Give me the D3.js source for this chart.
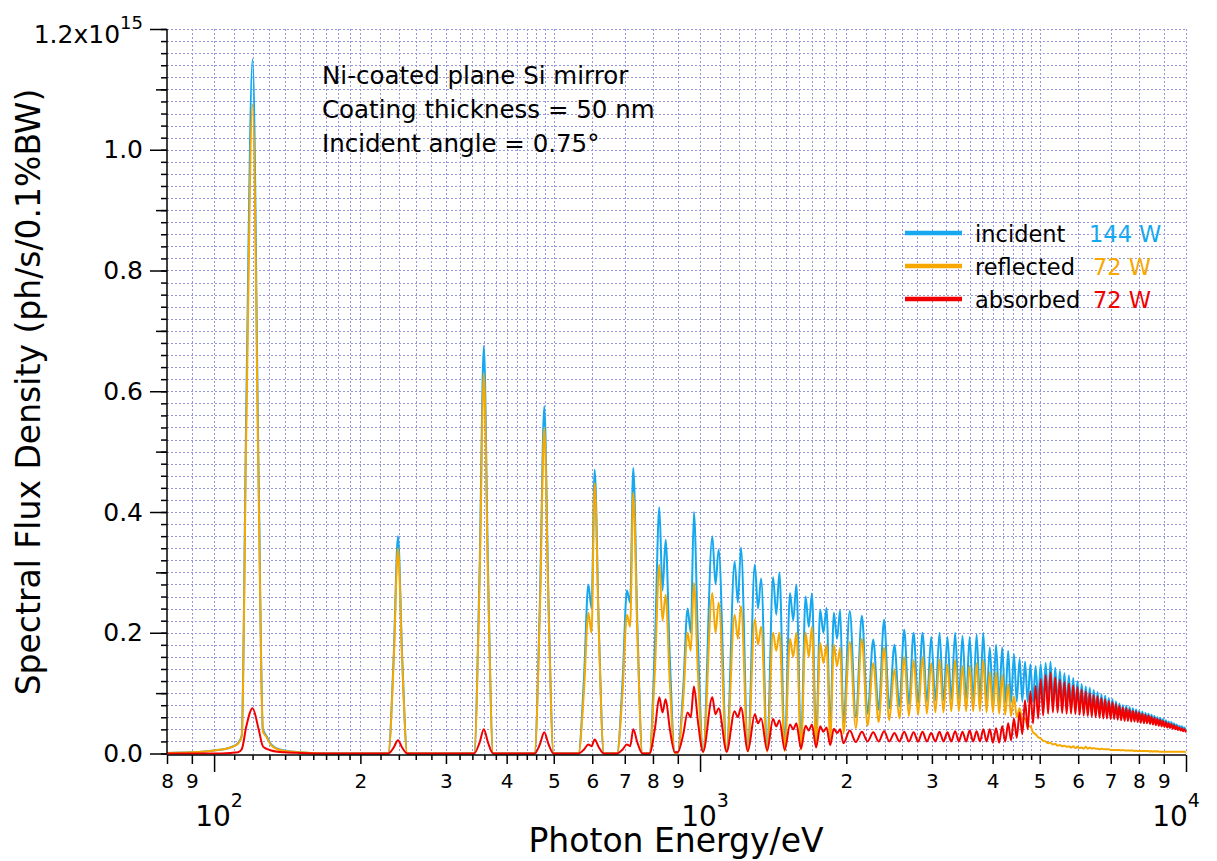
<html lang="en">
<head>
<meta charset="utf-8">
<title>Spectral flux density</title>
<script src="https://d3js.org/d3.v7.min.js"></script>
<style>
  body { margin: 0; background: white; }
  svg text { font-family: "DejaVu Sans", sans-serif; }
</style>
</head>
<body>
<div id="chart"></div>
<script>

// first harmonic region, read point by point (eV, 1e15 ph/s/0.1%BW)
var lowE   = [80, 90, 100, 108, 112, 114, 116.5, 120, 123.5, 126, 128, 131, 135, 140, 150, 170];
var lowInc = [0.001, 0.002, 0.005, 0.01, 0.017, 0.03, 0.58, 1.15, 0.46, 0.04, 0.03, 0.015, 0.008, 0.005, 0.002, 0];
var lowRef = [0.001, 0.002, 0.005, 0.01, 0.016, 0.028, 0.54, 1.075, 0.43, 0.037, 0.028, 0.014, 0.007, 0.004, 0.002, 0];
var lowAbs = [0, 0, 0, 0.001, 0.002, 0.007, 0.045, 0.075, 0.04, 0.012, 0.008, 0.005, 0.003, 0.002, 0.001, 0];

// harmonics 2..83 (eV)
var harmonicE = [239, 359, 478, 598, 718, 837, 957, 1076, 1196, 1316,
  1435, 1555, 1674, 1794, 1914, 2033, 2153, 2272, 2392, 2512,
  2631, 2751, 2870, 2990, 3110, 3229, 3349, 3468, 3588, 3708,
  3827, 3947, 4066, 4186, 4306, 4425, 4545, 4664, 4784, 4904,
  5023, 5143, 5262, 5382, 5502, 5621, 5741, 5860, 5980, 6100,
  6219, 6339, 6458, 6578, 6698, 6817, 6937, 7056, 7176, 7296,
  7415, 7535, 7654, 7774, 7894, 8013, 8133, 8252, 8372, 8492,
  8611, 8731, 8850, 8970, 9090, 9209, 9329, 9448, 9568, 9688,
  9807, 9927];

// incident: peak of each harmonic, and the valley after it
var incPeak = [0.36, 0.675, 0.575, 0.28, 0.27, 0.408, 0.24, 0.36, 0.318, 0.313,
  0.292, 0.266, 0.26, 0.238, 0.233, 0.236, 0.228, 0.189, 0.222, 0.18,
  0.205, 0.2, 0.2, 0.193, 0.2, 0.193, 0.2, 0.195, 0.193, 0.197,
  0.2, 0.176, 0.18, 0.176, 0.17, 0.165, 0.157, 0.152, 0.148, 0.145,
  0.148, 0.15, 0.152, 0.142, 0.137, 0.133, 0.129, 0.125, 0.12, 0.115,
  0.111, 0.109, 0.105, 0.102, 0.098, 0.096, 0.092, 0.09, 0.086, 0.083,
  0.08, 0.079, 0.077, 0.075, 0.073, 0.071, 0.069, 0.067, 0.066, 0.064,
  0.062, 0.06, 0.059, 0.057, 0.055, 0.053, 0.052, 0.05, 0.048, 0.046,
  0.045, 0.043];
var incValley = [0, 0, 0, 0, 0, 0.002, 0.003, 0.004, 0.006, 0.008,
  0.01, 0.015, 0.022, 0.04, 0.052, 0.061, 0.066, 0.072, 0.075, 0.078,
  0.082, 0.084, 0.086, 0.088, 0.088, 0.09, 0.09, 0.09, 0.09, 0.09,
  0.088, 0.086, 0.084, 0.084, 0.084, 0.086, 0.087, 0.085, 0.085, 0.085,
  0.084, 0.083, 0.083, 0.081, 0.079, 0.077, 0.076, 0.074, 0.073, 0.071,
  0.07, 0.069, 0.068, 0.066, 0.065, 0.065, 0.063, 0.063, 0.062, 0.06,
  0.059, 0.059, 0.058, 0.057, 0.056, 0.055, 0.054, 0.054, 0.052, 0.051,
  0.05, 0.049, 0.048, 0.047, 0.046, 0.045, 0.044, 0.043, 0.042, 0.041,
  0.04, 0.038];
// harmonics 5..16 split in two spikes: second spike and the dip between
var incTwin = [0.47, 0.473, 0.354, 0.40, 0.338, 0.341, 0.29, 0.30, 0.28, 0.265, 0.241, 0.238];
var incDip  = [0.24, 0.25, 0.27, 0.2, 0.28, 0.25, 0.24, 0.23, 0.22, 0.21, 0.2, 0.19];

// reflected
var refPeak = [0.34, 0.63, 0.54, 0.233, 0.23, 0.313, 0.2, 0.266, 0.23, 0.222,
  0.2, 0.19, 0.2, 0.183, 0.18, 0.185, 0.19, 0.15, 0.175, 0.14,
  0.16, 0.155, 0.16, 0.15, 0.156, 0.148, 0.155, 0.145, 0.145, 0.15,
  0.155, 0.135, 0.135, 0.13, 0.115, 0.095, 0.075, 0.058, 0.045, 0.032,
  0.025, 0.02, 0.018, 0.016, 0.014, 0.013, 0.012, 0.012, 0.011, 0.01,
  0.011, 0.01, 0.009, 0.008, 0.008, 0.007, 0.007, 0.006, 0.006, 0.006,
  0.006, 0.005, 0.005, 0.005, 0.005, 0.004, 0.004, 0.004, 0.004, 0.004,
  0.004, 0.004, 0.003, 0.003, 0.003, 0.003, 0.003, 0.003, 0.003, 0.003,
  0.003, 0.003];
var refValley = [0, 0, 0, 0, 0, 0.001, 0.002, 0.002, 0.003, 0.003,
  0.004, 0.006, 0.012, 0.022, 0.033, 0.042, 0.046, 0.052, 0.055, 0.058,
  0.062, 0.064, 0.066, 0.068, 0.068, 0.07, 0.07, 0.07, 0.07, 0.07,
  0.068, 0.068, 0.066, 0.064, 0.062, 0.06, 0.055, 0.045, 0.035, 0.027,
  0.021, 0.017, 0.015, 0.013, 0.012, 0.011, 0.01, 0.009, 0.009, 0.008,
  0.008, 0.008, 0.008, 0.007, 0.007, 0.007, 0.006, 0.006, 0.006, 0.005,
  0.005, 0.005, 0.005, 0.004, 0.004, 0.004, 0.004, 0.004, 0.003, 0.003,
  0.003, 0.003, 0.003, 0.003, 0.003, 0.003, 0.003, 0.003, 0.003, 0.003,
  0.003, 0.002];
var refTwin = [0.448, 0.432, 0.263, 0.283, 0.25, 0.244, 0.21, 0.2, 0.2, 0.21, 0.18, 0.175];
var refDip  = [0.2, 0.21, 0.22, 0.17, 0.2, 0.19, 0.18, 0.17, 0.16, 0.16, 0.15, 0.145];

// absorbed
var absPeak = [0.022, 0.04, 0.035, 0.015, 0.015, 0.093, 0.068, 0.093, 0.07, 0.065,
  0.057, 0.048, 0.046, 0.045, 0.041, 0.038, 0.036, 0.035, 0.037, 0.034,
  0.036, 0.035, 0.036, 0.034, 0.036, 0.035, 0.037, 0.036, 0.038, 0.037,
  0.04, 0.04, 0.042, 0.045, 0.05, 0.058, 0.068, 0.088, 0.103, 0.112,
  0.123, 0.13, 0.134, 0.126, 0.122, 0.119, 0.116, 0.113, 0.11, 0.106,
  0.103, 0.1, 0.097, 0.095, 0.092, 0.09, 0.087, 0.085, 0.082, 0.079,
  0.076, 0.075, 0.073, 0.071, 0.07, 0.068, 0.066, 0.064, 0.063, 0.061,
  0.059, 0.057, 0.056, 0.054, 0.052, 0.05, 0.049, 0.047, 0.045, 0.043,
  0.042, 0.04];
var absValley = [0, 0, 0, 0, 0, 0.002, 0.003, 0.003, 0.004, 0.005,
  0.006, 0.008, 0.01, 0.014, 0.017, 0.019, 0.02, 0.02, 0.02, 0.02,
  0.02, 0.02, 0.02, 0.02, 0.02, 0.02, 0.02, 0.02, 0.02, 0.02,
  0.02, 0.018, 0.018, 0.02, 0.022, 0.026, 0.032, 0.04, 0.05, 0.058,
  0.063, 0.066, 0.068, 0.068, 0.067, 0.066, 0.066, 0.065, 0.064, 0.063,
  0.062, 0.061, 0.06, 0.059, 0.058, 0.058, 0.057, 0.057, 0.056, 0.055,
  0.054, 0.054, 0.053, 0.053, 0.052, 0.051, 0.05, 0.05, 0.049, 0.048,
  0.047, 0.046, 0.045, 0.044, 0.043, 0.042, 0.041, 0.04, 0.039, 0.038,
  0.037, 0.035];
var absTwin = [0.023, 0.04, 0.09, 0.111, 0.075, 0.076, 0.058, 0.055, 0.05, 0.048, 0.043, 0.04];
var absDip  = [0.012, 0.012, 0.068, 0.06, 0.065, 0.06, 0.05, 0.045, 0.04, 0.038, 0.036, 0.034];

// axis ticks
var xDigitTicks = [80, 90, 200, 300, 400, 500, 600, 700, 800, 900,
  2000, 3000, 4000, 5000, 6000, 7000, 8000, 9000];
var xDecadeTicks = [100, 1000, 10000];
var xDecadeExp = ["2", "3", "4"];
var xMinorTicks = [110, 120, 130, 140, 150, 160, 170, 180, 190, 220, 240, 260, 280,
  320, 340, 360, 380, 420, 440, 460, 480,
  1100, 1200, 1300, 1400, 1500, 1600, 1700, 1800, 1900, 2200, 2400, 2600, 2800,
  3200, 3400, 3600, 3800, 4200, 4400, 4600, 4800];
var yMajorTicks = [0, 0.2, 0.4, 0.6, 0.8, 1.0];
var yMajorLabels = ["0.0", "0.2", "0.4", "0.6", "0.8", "1.0"];
var yMidTicks = [0.1, 0.3, 0.5, 0.7, 0.9, 1.1];

var legendNames = ["incident", "reflected", "absorbed"];
var legendPower = ["144 W", "72 W", "72 W"];
var colors = ["#15a8ef", "#f6a800", "#f00000"];
var notes = ["Ni-coated plane Si mirror", "Coating thickness = 50 nm", "Incident angle = 0.75\u00b0"];

var W = 1217, H = 861;
var plotL = 167, plotR = 1186, plotT = 29, plotB = 753.5;

var svg = d3.select("#chart").append("svg")
  .attr("width", W).attr("height", H);

var x = d3.scaleLog().domain([80, 10000]).range([plotL, plotR]);
var y = d3.scaleLinear().domain([0, 1.2]).range([plotB, plotT]);

// grid
var grid = svg.append("g")
  .attr("stroke", "#6c6cd0")
  .attr("stroke-width", 1)
  .attr("stroke-dasharray", "2,2")
  .attr("opacity", 0.7);
grid.selectAll(".vg")
  .data(xDigitTicks.concat(xDecadeTicks, xMinorTicks).filter(function(d) { return d > 80; }))
  .enter().append("line")
    .attr("x1", function(d) { return Math.round(x(d)) + 0.5; })
    .attr("x2", function(d) { return Math.round(x(d)) + 0.5; })
    .attr("y1", plotT).attr("y2", plotB);
grid.selectAll(".hg")
  .data(d3.range(1, 61).map(function(k) { return k * 0.02; }))
  .enter().append("line")
    .attr("y1", function(d) { return Math.round(y(d)) + 0.5; })
    .attr("y2", function(d) { return Math.round(y(d)) + 0.5; })
    .attr("x1", plotL).attr("x2", plotR);

// build one curve from the read peaks and valleys
// (feet and knees only shape each isolated line, like a bar width would)
var halfBase = 0.045, kneeGap = 0.02, kneeFrac = 0.45, twinGap = 0.015;
function buildSeries(low, peak, valley, twin, dip) {
  var pts = lowE.map(function(e, i) { return [e, low[i]]; });
  harmonicE.forEach(function(e, i) {
    var prevMid = i === 0 ? 170 : Math.sqrt(harmonicE[i - 1] * e);
    var nextMid = i === harmonicE.length - 1 ? 10000 : Math.sqrt(e * harmonicE[i + 1]);
    var lo0 = i === 0 ? 0 : valley[i - 1];
    var t = i - 3;
    var isTwin = t >= 0 && t < twin.length;
    var off = isTwin ? twinGap : 0;
    var firstTop = peak[i], lastTop = isTwin ? twin[t] : peak[i];
    if (e * (1 - halfBase - off) > prevMid) {
      pts.push([e * (1 - halfBase - off), lo0]);
      pts.push([e * (1 - kneeGap - off), lo0 + kneeFrac * (firstTop - lo0)]);
    }
    if (isTwin) {
      pts.push([e * (1 - twinGap), peak[i]], [e, dip[t]], [e * (1 + twinGap), twin[t]]);
    } else {
      pts.push([e, peak[i]]);
    }
    if (e * (1 + halfBase + off) < nextMid) {
      pts.push([e * (1 + kneeGap + off), valley[i] + kneeFrac * (lastTop - valley[i])]);
      pts.push([e * (1 + halfBase + off), valley[i]]);
    }
    pts.push([nextMid, valley[i]]);
  });
  return pts;
}

var series = [
  buildSeries(lowInc, incPeak, incValley, incTwin, incDip),
  buildSeries(lowRef, refPeak, refValley, refTwin, refDip),
  buildSeries(lowAbs, absPeak, absValley, absTwin, absDip)
];

var line = d3.line()
  .curve(d3.curveMonotoneX)
  .x(function(d) { return x(d[0]); })
  .y(function(d) { return y(d[1]); });

svg.append("g").selectAll("path")
  .data(series)
  .enter().append("path")
    .attr("d", line)
    .attr("fill", "none")
    .attr("stroke", function(d, i) { return colors[i]; })
    .attr("stroke-width", 2)
    .attr("stroke-linejoin", "round");

// x axis
var xAxisY = 755;
svg.append("g")
  .attr("transform", "translate(0," + xAxisY + ")")
  .call(d3.axisBottom(x).tickValues(xMinorTicks).tickSize(5).tickFormat(""))
  .call(function(g) { g.select(".domain").remove(); });
svg.append("g")
  .attr("transform", "translate(0," + xAxisY + ")")
  .call(d3.axisBottom(x).tickValues(xDecadeTicks).tickSize(17).tickFormat(""))
  .call(function(g) { g.select(".domain").remove(); });
var xDigits = svg.append("g")
  .attr("transform", "translate(0," + xAxisY + ")")
  .call(d3.axisBottom(x).tickValues(xDigitTicks).tickSize(9).tickPadding(10)
    .tickFormat(function(d) { return String(d).charAt(0); }));
xDigits.select(".domain").attr("d", "M" + plotL + ",0H" + plotR);
xDigits.selectAll("text").attr("font-size", 20).attr("font-family", "DejaVu Sans").attr("fill", "#000");

// decade labels, the last one kept inside the window
var dec = svg.append("g").selectAll("text")
  .data(xDecadeTicks)
  .enter().append("text")
    .attr("x", function(d) { return Math.min(x(d) + 5, 1176); })
    .attr("y", 826)
    .attr("text-anchor", "middle")
    .attr("font-size", 28);
dec.append("tspan").text("10");
dec.append("tspan")
  .attr("font-size", 19)
  .attr("dy", -19)
  .text(function(d, i) { return xDecadeExp[i]; });

svg.append("text")
  .attr("x", 676).attr("y", 852)
  .attr("text-anchor", "middle")
  .attr("font-size", 33)
  .text("Photon Energy/eV");

// y axis
var yAxisX = 167;
svg.append("g")
  .attr("transform", "translate(" + yAxisX + ",0)")
  .call(d3.axisLeft(y).tickValues(d3.range(0, 61).map(function(k) { return k * 0.02; }))
    .tickSize(6).tickFormat(""))
  .call(function(g) { g.select(".domain").remove(); });
svg.append("g")
  .attr("transform", "translate(" + yAxisX + ",0)")
  .call(d3.axisLeft(y).tickValues(yMidTicks).tickSize(11).tickFormat(""))
  .call(function(g) { g.select(".domain").remove(); });
var yMain = svg.append("g")
  .attr("transform", "translate(" + yAxisX + ",0)")
  .call(d3.axisLeft(y).tickValues(yMajorTicks.concat([1.2])).tickSize(17).tickPadding(7)
    .tickFormat(function(d, i) { return i < yMajorLabels.length ? yMajorLabels[i] : ""; }));
yMain.select(".domain").attr("d", "M0," + plotT + "V" + plotB);
yMain.selectAll("text").attr("font-size", 25).attr("font-family", "DejaVu Sans").attr("fill", "#000");
svg.selectAll(".tick line").attr("stroke", "#000").attr("stroke-width", 1.5);
svg.selectAll(".domain").attr("stroke", "#000").attr("stroke-width", 1.5);

var topLabel = svg.append("text")
  .attr("x", 143).attr("y", y(1.2) + 14)
  .attr("text-anchor", "end")
  .attr("font-size", 25);
topLabel.append("tspan").text("1.2x10");
topLabel.append("tspan").attr("font-size", 18).attr("dy", -14).text("15");

svg.append("text")
  .attr("transform", "translate(40,392) rotate(-90)")
  .attr("text-anchor", "middle")
  .attr("font-size", 33)
  .text("Spectral Flux Density (ph/s/0.1%BW)");

// annotation
svg.append("g").selectAll("text")
  .data(notes)
  .enter().append("text")
    .attr("x", 322)
    .attr("y", function(d, i) { return 84 + i * 34; })
    .attr("font-size", 24.5)
    .text(function(d) { return d; });

// legend
var leg = svg.append("g").selectAll("g")
  .data(legendNames)
  .enter().append("g")
    .attr("transform", function(d, i) { return "translate(0," + (233 + i * 33) + ")"; });
leg.append("line")
  .attr("x1", 905).attr("x2", 962)
  .attr("stroke", function(d, i) { return colors[i]; })
  .attr("stroke-width", 4.5);
leg.append("text")
  .attr("x", 975).attr("y", 9)
  .attr("font-size", 22.5)
  .text(function(d) { return d; });
leg.append("text")
  .attr("x", function(d, i) { return i === 0 ? 1089 : 1093; })
  .attr("y", 9)
  .attr("font-size", 22.5)
  .attr("fill", function(d, i) { return colors[i]; })
  .text(function(d, i) { return legendPower[i]; });

</script>
</body>
</html>
